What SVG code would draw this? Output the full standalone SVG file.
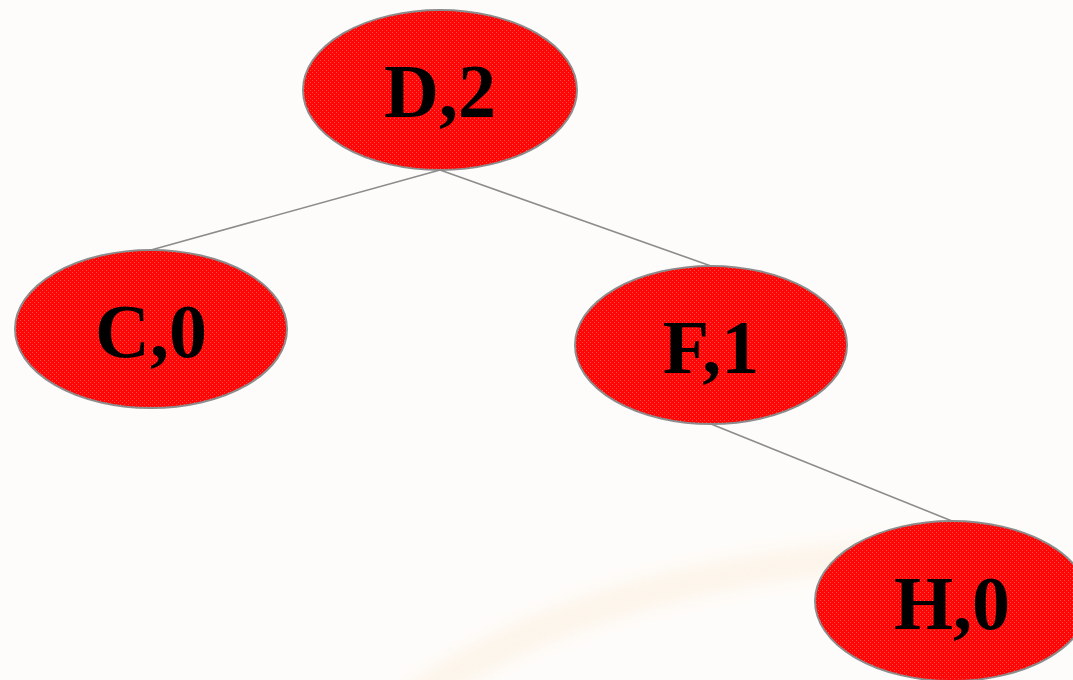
<svg xmlns="http://www.w3.org/2000/svg" width="1073" height="680" viewBox="0 0 1073 680">
  <defs>
    <pattern id="speckle" width="4" height="4" patternUnits="userSpaceOnUse">
      <rect width="4" height="4" fill="#ff0606"/>
      <rect x="0" y="0" width="1" height="1" fill="#ff5050"/>
      <rect x="2" y="2" width="1" height="1" fill="#ff5050"/>
    </pattern>
    <filter id="soft" x="-20%" y="-20%" width="140%" height="140%">
      <feGaussianBlur stdDeviation="8"/>
    </filter>
  </defs>
  <style>
    .node ellipse { fill: url(#speckle); stroke: #8c8c8c; stroke-width: 2; }
    .node text { font-family: "Liberation Serif", "Times New Roman", serif; font-weight: bold; font-size: 76px; fill: #000; text-anchor: middle; }
    .edge { stroke: #8c8c8c; stroke-width: 1.6; fill: none; }
  </style>

  <!-- page background with a faint warm swoosh -->
  <rect width="1073" height="680" fill="#fefcfa"/>
  <path d="M 400 710 Q 600 555 1010 548" fill="none" stroke="#fcf1e2" stroke-width="34" opacity="0.6" filter="url(#soft)"/>

  <g id="connectors">
    <line class="edge" x1="440" y1="170" x2="151" y2="250"/>
    <line class="edge" x1="440" y1="170" x2="711" y2="266"/>
    <line class="edge" x1="711" y1="424" x2="952" y2="521"/>
  </g>

  <g id="node-D" class="node">
    <ellipse cx="440" cy="90" rx="137" ry="80"/>
    <text x="440" y="117">D,2</text>
  </g>
  <g id="node-C" class="node">
    <ellipse cx="151" cy="329" rx="136" ry="79"/>
    <text x="151" y="357">C,0</text>
  </g>
  <g id="node-F" class="node">
    <ellipse cx="711" cy="345" rx="136" ry="79"/>
    <text x="711" y="373">F,1</text>
  </g>
  <g id="node-H" class="node">
    <ellipse cx="952" cy="601" rx="137" ry="80"/>
    <text x="952" y="629">H,0</text>
  </g>
</svg>
